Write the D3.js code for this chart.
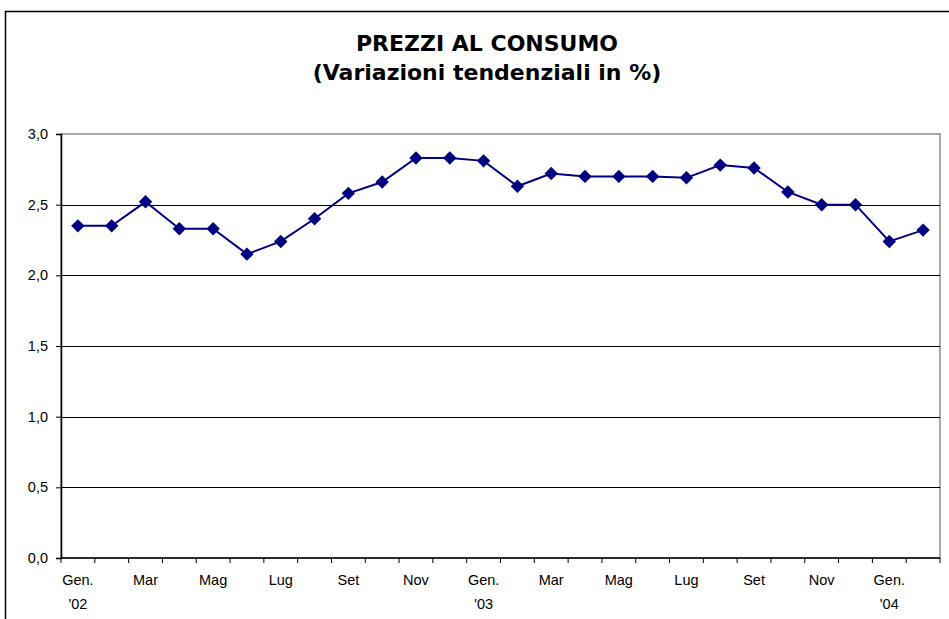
<!DOCTYPE html>
<html>
<head>
<meta charset="utf-8">
<script src="https://cdn.jsdelivr.net/npm/d3@7"></script>
<style>
  body { margin: 0; background: #fff; }
  svg { display: block; }
</style>
</head>
<body>
<div id="chart"></div>
<script>
// Consumer prices, year-on-year change (%), Jan 2002 - Feb 2004
const months = ["Gen.", "Feb", "Mar", "Apr", "Mag", "Giu", "Lug", "Ago", "Set", "Ott", "Nov", "Dic",
                "Gen.", "Feb", "Mar", "Apr", "Mag", "Giu", "Lug", "Ago", "Set", "Ott", "Nov", "Dic",
                "Gen.", "Feb"];
const years = ["'02", "", "", "", "", "", "", "", "", "", "", "",
               "'03", "", "", "", "", "", "", "", "", "", "", "",
               "'04", ""];
const values = [2.35, 2.35, 2.52, 2.33, 2.33, 2.15, 2.24, 2.40, 2.58, 2.66, 2.83, 2.83,
                2.81, 2.63, 2.72, 2.70, 2.70, 2.70, 2.69, 2.78, 2.76, 2.59, 2.50, 2.50,
                2.24, 2.32];
const yTicks = [0, 0.5, 1, 1.5, 2, 2.5, 3];

const W = 949, H = 619;
const margin = { top: 134, right: 9, bottom: 61, left: 61 };
const width = W - margin.left - margin.right;
const height = H - margin.top - margin.bottom;

const svg = d3.select("#chart").append("svg")
    .attr("width", W)
    .attr("height", H);

// outer chart frame
svg.append("rect")
    .attr("x", 5.5).attr("y", 11.5)
    .attr("width", W + 10).attr("height", H + 10)
    .attr("fill", "none")
    .attr("stroke", "#000")
    .attr("stroke-width", 1.5);

// title
const title = svg.append("text")
    .attr("text-anchor", "middle")
    .attr("font-family", "DejaVu Sans, Verdana, sans-serif")
    .attr("font-weight", "bold")
    .attr("font-size", "22px")
    .attr("fill", "#000");
title.append("tspan").attr("x", 487).attr("y", 51).text("PREZZI AL CONSUMO");
title.append("tspan").attr("x", 487).attr("y", 80).text("(Variazioni tendenziali in %)");

const g = svg.append("g")
    .attr("transform", `translate(${margin.left},${margin.top})`);

const x = d3.scaleBand()
    .domain(d3.range(values.length))
    .range([0, width]);

const y = d3.scaleLinear()
    .domain([0, 3])
    .range([height, 0]);

// plot area border (grey top/right)
g.append("rect")
    .attr("x", 0).attr("y", 0)
    .attr("width", width).attr("height", height)
    .attr("fill", "none")
    .attr("stroke", "#8c8c8c")
    .attr("stroke-width", 1.5);

// gridlines
g.append("g")
    .selectAll("line")
    .data(yTicks.filter(d => d > 0 && d < 3))
    .join("line")
    .attr("x1", 0).attr("x2", width)
    .attr("y1", d => Math.round(y(d)) + 0.5)
    .attr("y2", d => Math.round(y(d)) + 0.5)
    .attr("stroke", "#000")
    .attr("stroke-width", 1);

// y axis
const yAxis = g.append("g")
    .call(d3.axisLeft(y)
        .tickValues(yTicks)
        .tickSize(5)
        .tickPadding(8)
        .tickFormat(d => d3.format(".1f")(d).replace(".", ",")));
yAxis.select(".domain").attr("stroke", "#000").attr("stroke-width", 1.5);
yAxis.selectAll(".tick line").attr("stroke", "#000");
yAxis.selectAll("text")
    .attr("font-family", "Liberation Sans, Arial, sans-serif")
    .attr("font-size", "14.5px")
    .attr("fill", "#000");

// x axis: ticks at category boundaries
const xAxis = g.append("g")
    .attr("transform", `translate(0,${height})`);
xAxis.append("line")
    .attr("x1", 0).attr("x2", width)
    .attr("stroke", "#000")
    .attr("stroke-width", 1.5);
xAxis.selectAll(".xt")
    .data(d3.range(values.length + 1))
    .join("line")
    .attr("class", "xt")
    .attr("x1", i => i === values.length ? width : x(i))
    .attr("x2", i => i === values.length ? width : x(i))
    .attr("y1", 0).attr("y2", 5)
    .attr("stroke", "#000");

const labelled = d3.range(0, values.length, 2);
const xl = xAxis.selectAll(".xl")
    .data(labelled)
    .join("text")
    .attr("class", "xl")
    .attr("text-anchor", "middle")
    .attr("font-family", "Liberation Sans, Arial, sans-serif")
    .attr("font-size", "14.5px")
    .attr("fill", "#000");
xl.append("tspan")
    .attr("x", i => x(i) + x.bandwidth() / 2)
    .attr("y", 27)
    .text(i => months[i]);
xl.append("tspan")
    .attr("x", i => x(i) + x.bandwidth() / 2)
    .attr("y", 51)
    .text(i => years[i]);

// series line
const line = d3.line()
    .x((d, i) => x(i) + x.bandwidth() / 2)
    .y(d => y(d));

g.append("path")
    .datum(values)
    .attr("d", line)
    .attr("fill", "none")
    .attr("stroke", "#000080")
    .attr("stroke-width", 2);

// diamond markers
g.append("g")
    .selectAll("path")
    .data(values)
    .join("path")
    .attr("transform", (d, i) => `translate(${x(i) + x.bandwidth() / 2},${y(d)})`)
    .attr("d", d3.symbol().type(d3.symbolDiamond2).size(115))
    .attr("fill", "#000080");
</script>
</body>
</html>
